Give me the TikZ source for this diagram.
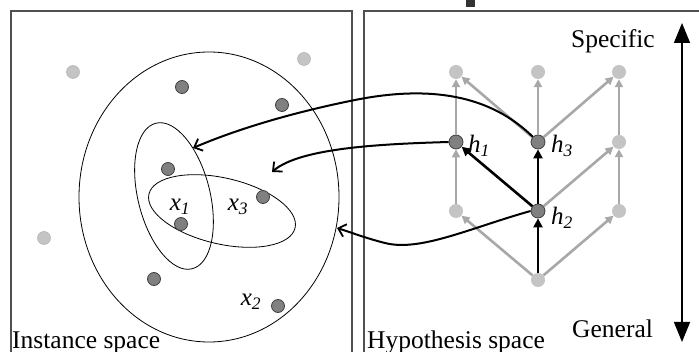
\documentclass[tikz,border=0pt]{standalone}
\usepackage{fontspec}
\setmainfont{Liberation Serif}
\usetikzlibrary{arrows.meta}
\definecolor{dotdark}{HTML}{808080}
\definecolor{dotlight}{HTML}{C4C4C4}
\definecolor{edgegray}{HTML}{A8A8A8}
\definecolor{framegray}{HTML}{505050}
\tikzset{
  inst/.style={circle,fill=dotdark,draw=black!75,line width=0.8pt,minimum size=13pt,inner sep=0pt},
  instl/.style={circle,fill=dotlight,draw=dotlight!90!black,line width=0.5pt,minimum size=13pt,inner sep=0pt},
  hyp/.style={circle,fill=dotdark,draw=black!75,line width=0.8pt,minimum size=14pt,inner sep=0pt},
  hypl/.style={circle,fill=dotlight,minimum size=14pt,inner sep=0pt},
  gedge/.style={draw=edgegray,line width=2.6pt,-{Triangle[length=8pt,width=8pt]}},
  bedge/.style={draw=black,line width=2.6pt,-{Triangle[length=9pt,width=9pt]}},
  maparrow/.style={draw=black,line width=2pt,-{Straight Barb[length=7pt,width=13pt,line width=1.8pt]}},
  region/.style={draw=black,line width=0.8pt},
  frame/.style={draw=framegray,line width=2pt},
  lbl/.style={font=\fontsize{25.5}{30}\selectfont,inner sep=0pt},
  sym/.style={font=\fontsize{25}{30}\selectfont\itshape,inner sep=0pt}
}
\begin{document}
\begin{tikzpicture}[x=1pt,y=-1pt]
\useasboundingbox (0,0) rectangle (699,352);
\fill[white] (0,0) rectangle (699,352);
% frames
\draw[frame] (11,360) -- (11,11) -- (352,11) -- (352,360);
\draw[frame] (364,360) -- (364,11) -- (705,11);
\fill[black!80] (466,0) rectangle (475,7);
% instance space regions
\draw[region] (209,197) ellipse [x radius=130, y radius=145];
\draw[region,rotate around={14:(174,196)}] (174,196) ellipse [x radius=36, y radius=75];
\draw[region,rotate around={-13:(222,211)}] (222,211) ellipse [x radius=75, y radius=33];
% instances
\node[inst] (i1) at (182,87) {};
\node[inst] (i2) at (282,105) {};
\node[inst] (i3) at (168,169) {};
\node[inst] (i4) at (263,197) {};
\node[inst] (i5) at (181,224) {};
\node[inst] (i6) at (154,279) {};
\node[inst] (i7) at (278,306) {};
\node[instl] (o1) at (73,72) {};
\node[instl] (o2) at (304,59) {};
\node[instl] (o3) at (44,238) {};
\node[sym] (x1) at (180,207) {x\textsubscript{1}};
\node[sym] (x3) at (238,207) {x\textsubscript{3}};
\node[sym] (x2) at (251,302) {x\textsubscript{2}};
\node[lbl,anchor=base west] (inst) at (12,349) {Instance space};
% hypothesis lattice
\node[hypl] (t1) at (456,72) {};
\node[hypl] (t2) at (538,72) {};
\node[hypl] (t3) at (619,72) {};
\node[hyp] (h1) at (456,142) {};
\node[hyp] (h3) at (538,142) {};
\node[hypl] (m3) at (619,142) {};
\node[hypl] (b1) at (456,211) {};
\node[hyp] (h2) at (538,211) {};
\node[hypl] (b3) at (619,211) {};
\node[hypl] (g) at (538,280) {};
\draw[gedge] (g) -- (b1);
\draw[gedge] (g) -- (b3);
\draw[gedge] (b1) -- (h1);
\draw[gedge] (h2) -- (m3);
\draw[gedge] (b3) -- (m3);
\draw[gedge] (h1) -- (t1);
\draw[gedge] (h3) -- (t1);
\draw[gedge] (h3) -- (t2);
\draw[gedge] (h3) -- (t3);
\draw[gedge] (m3) -- (t3);
\draw[bedge] (g) -- (h2);
\draw[bedge] (h2) -- (h1);
\draw[bedge] (h2) -- (h3);
\node[sym] (lh1) at (479,146) {h\textsubscript{1}};
\node[sym] (lh3) at (562,146) {h\textsubscript{3}};
\node[sym] (lh2) at (562,218) {h\textsubscript{2}};
\node[lbl,anchor=base west] (hs) at (367,349) {Hypothesis space};
\node[lbl,anchor=base west] (spec) at (571,48) {Specific};
\node[lbl,anchor=base west] (gen) at (572,338) {General};
\coordinate (vt) at (682,23);
\coordinate (vb) at (682,342);
\draw[line width=1.5pt,{Triangle[length=20pt,width=16pt]}-{Triangle[length=20pt,width=16pt]}] (vt) -- (vb);
% mapping arrows
\coordinate (e1) at (193,148);
\coordinate (e2) at (272,172);
\coordinate (e3) at (337,228);
\draw[maparrow] (h3.north west) .. controls (490,95) and (430,85) .. (355,100)
  .. controls (290,113) and (235,130) .. (e1);
\draw[maparrow] (h1.west) .. controls (380,144) and (300,148) .. (e2);
\draw[maparrow] (h2.west) .. controls (470,228) and (420,252) .. (385,243)
  .. controls (365,238) and (350,232) .. (e3);
\end{tikzpicture}
\end{document}
